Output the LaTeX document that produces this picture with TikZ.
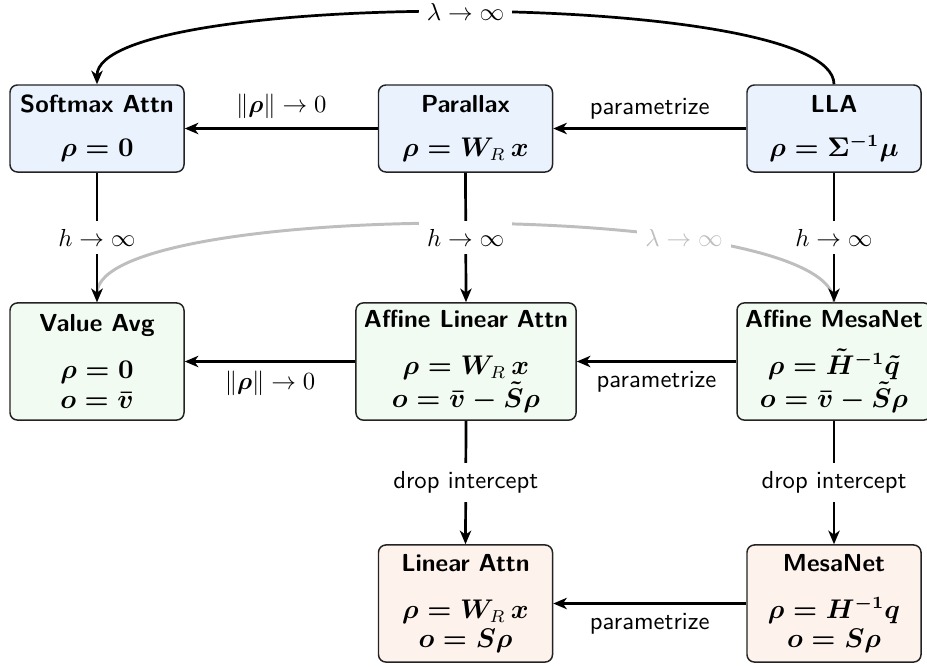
\documentclass[tikz,border=0pt]{standalone}
\usepackage{amsmath,amssymb}
\usetikzlibrary{arrows.meta}
\definecolor{bluefill}{RGB}{234,243,253}
\definecolor{greenfill}{RGB}{242,251,242}
\definecolor{peachfill}{RGB}{253,242,236}
\definecolor{edgecol}{RGB}{35,35,35}
\definecolor{ghost}{RGB}{190,190,190}
\newcommand{\bm}[1]{{\fontsize{10.6}{12}\selectfont\boldmath$#1$}}
\newcommand{\thinR}{\text{\unboldmath$R$}}
\begin{document}
\begin{tikzpicture}[x=0.4057pt,y=-0.4057pt,
  font=\sffamily,
  box/.style={draw=edgecol, line width=0.6pt, rounded corners=3pt, align=center, inner sep=3pt, minimum width=70.6pt},
  rowone/.style={box, fill=bluefill, minimum height=35.3pt},
  rowtwo/.style={box, fill=greenfill, minimum height=47.5pt},
  rowthree/.style={box, fill=peachfill, minimum height=47.5pt},
  tip/.style={-{Stealth[length=5.5pt,width=4.6pt,inset=1.6pt]}},
  conn/.style={tip, line width=1.1pt, draw=black},
  gconn/.style={tip, line width=1.2pt, draw=ghost},
  lbl/.style={fill=white, inner sep=3.3pt},
]
\useasboundingbox (0,0) rectangle (927,666);

% row 1
\node[rowone] (soft) at (97,128.5) {{\bfseries Softmax Attn}\\[6pt]\bm{\rho=0}};
\node[rowone] (par) at (465.5,128.5) {{\bfseries Parallax}\\[6pt]\bm{\rho=W_{\thinR}\,x}};
\node[rowone] (lla) at (834,128.5) {{\bfseries LLA}\\[6pt]\bm{\rho=\Sigma^{-1}\mu}};

% row 2
\node[rowtwo] (vavg) at (97,361.5) {{\bfseries Value Avg}\\[7pt]\bm{\rho=0}\\\bm{o=\bar{v}}};
\node[rowtwo, minimum width=89.3pt] (aff) at (466,361.5) {{\bfseries Affine Linear Attn}\\[7pt]\bm{\rho=W_{\thinR}\,x}\\\bm{o=\bar{v}-\tilde{S}\rho}};
\node[rowtwo, minimum width=78.7pt] (affmesa) at (834,361.5) {{\bfseries Affine MesaNet}\\[7pt]\bm{\rho=\tilde{H}^{-1}\tilde{q}}\\\bm{o=\bar{v}-\tilde{S}\rho}};

% row 3
\node[rowthree] (lin) at (465.5,603.5) {{\bfseries Linear Attn}\\[7pt]\bm{\rho=W_{\thinR}\,x}\\\bm{o=S\rho}};
\node[rowthree] (mesa) at (834,603.5) {{\bfseries MesaNet}\\[7pt]\bm{\rho=H^{-1}q}\\\bm{o=S\rho}};

% grey curve (behind)
\draw[gconn] (affmesa.north) .. controls +(0,-104) and +(0,-104) .. node[pos=0.29, lbl, text=ghost] {$\lambda\to\infty$} (vavg.north);

% top curve
\draw[conn] (lla.north) .. controls +(0,-96) and +(0,-96) .. node[midway, lbl] {$\lambda\to\infty$} (soft.north);

% horizontal
\draw[conn] (par.west) -- node[midway, above] {$\|\boldsymbol{\rho}\|\to 0$} (soft.east);
\draw[conn] (lla.west) -- node[midway, above] {parametrize} (par.east);
\draw[conn] (aff.west) -- node[midway, below] {$\|\boldsymbol{\rho}\|\to 0$} (vavg.east);
\draw[conn] (affmesa.west) -- node[midway, below] {parametrize} (aff.east);
\draw[conn] (mesa.west) -- node[midway, below] {parametrize} (lin.east);

% vertical
\draw[conn] (soft.south) -- node[midway, lbl] {$h\to\infty$} (vavg.north);
\draw[conn] (par.south) -- node[midway, lbl] {$h\to\infty$} (aff.north);
\draw[conn] (lla.south) -- node[midway, lbl] {$h\to\infty$} (affmesa.north);
\draw[conn] (aff.south) -- node[midway, lbl] {drop intercept} (lin.north);
\draw[conn] (affmesa.south) -- node[midway, lbl] {drop intercept} (mesa.north);
\end{tikzpicture}
\end{document}
